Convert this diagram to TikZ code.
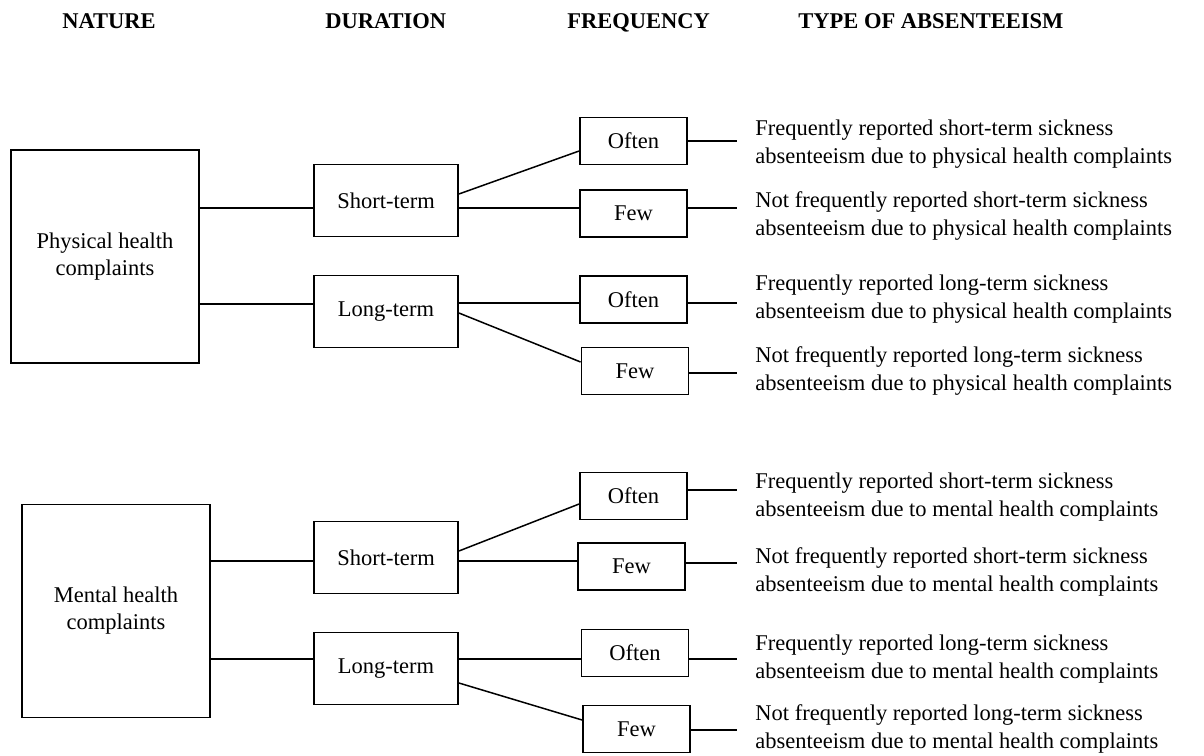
\documentclass[tikz,border=0pt]{standalone}
\usepackage{fontspec}
\setmainfont{Liberation Serif}
\usepackage{tikz}

\begin{document}
\begin{tikzpicture}[x=0.5pt,y=-0.5pt,
nature box/.style={draw,line width=0.9pt,minimum width=94pt,minimum height=106.5pt,
                   align=center,font=\fontsize{11.25}{13.5}\selectfont},
duration box/.style={draw,line width=0.9pt,minimum width=72pt,minimum height=36pt,
                   font=\fontsize{11.25}{13.5}\selectfont},
freq box/.style={draw,line width=0.9pt,minimum width=53.5pt,minimum height=23.5pt,
                   font=\fontsize{11.25}{13.5}\selectfont},
head text/.style={anchor=base west,inner sep=0,font=\fontsize{11.25}{13.5}\selectfont\bfseries},
type text/.style={anchor=west,inner sep=0,align=left,font=\fontsize{11.25}{14}\selectfont},
link/.style={line width=0.75pt}]
\useasboundingbox (0,0) rectangle (1204,755);
%==================
\node[head text] (h1) at (62,28) {NATURE};
\node[head text] (h2) at (325,28) {DURATION};
\node[head text] (h3) at (567,28) {FREQUENCY};
\node[head text] (h4) at (798,28) {TYPE OF ABSENTEEISM};
%==================
\node[nature box] (phys) at (105,256.5) {Physical health\\complaints};
\node[nature box] (ment) at (116,611) {Mental health\\complaints};
%==================
\node[duration box] (st1) at (386,200.5) {Short-term};
\node[duration box] (lt1) at (386,311.5) {Long-term};
\node[duration box] (st2) at (386,557.5) {Short-term};
\node[duration box] (lt2) at (386,668.5) {Long-term};
%==================
\node[freq box] (o1) at (633.5,141) {Often};
\node[freq box] (f1) at (633.5,213.5) {Few};
\node[freq box] (o2) at (633.5,299.5) {Often};
\node[freq box] (f2) at (635,371) {Few};
\node[freq box] (o3) at (633.5,496) {Often};
\node[freq box] (f3) at (631.5,566.5) {Few};
\node[freq box] (o4) at (635,653) {Often};
\node[freq box] (f4) at (636.5,729) {Few};
%==================
\node[type text] (t1) at (755,144) {Frequently reported short-term sickness\\absenteeism due to physical health complaints};
\node[type text] (t2) at (755,216) {Not frequently reported short-term sickness\\absenteeism due to physical health complaints};
\node[type text] (t3) at (755,299) {Frequently reported long-term sickness\\absenteeism due to physical health complaints};
\node[type text] (t4) at (755,371) {Not frequently reported long-term sickness\\absenteeism due to physical health complaints};
\node[type text] (t5) at (755,497) {Frequently reported short-term sickness\\absenteeism due to mental health complaints};
\node[type text] (t6) at (755,572) {Not frequently reported short-term sickness\\absenteeism due to mental health complaints};
\node[type text] (t7) at (755,659) {Frequently reported long-term sickness\\absenteeism due to mental health complaints};
\node[type text] (t8) at (755,729) {Not frequently reported long-term sickness\\absenteeism due to mental health complaints};
% ===================
\draw[link] (phys.east |- 0,208) -- (st1.west |- 0,208);
\draw[link] (phys.east |- 0,304) -- (lt1.west |- 0,304);
\draw[link] (ment.east |- 0,561) -- (st2.west |- 0,561);
\draw[link] (ment.east |- 0,659) -- (lt2.west |- 0,659);
% ===================
\draw[link] (st1.east |- 0,194) -- (o1.west |- 0,151);
\draw[link] (st1.east |- 0,208) -- (f1.west |- 0,208);
\draw[link] (lt1.east |- 0,303) -- (o2.west |- 0,303);
\draw[link] (lt1.east |- 0,313) -- (f2.west |- 0,362);
\draw[link] (st2.east |- 0,551) -- (o3.west |- 0,504);
\draw[link] (st2.east |- 0,561) -- (f3.west |- 0,561);
\draw[link] (lt2.east |- 0,659) -- (o4.west |- 0,659);
\draw[link] (lt2.east |- 0,683) -- (f4.west |- 0,720);
% ===================
\foreach \f/\y in {o1/141,f1/208,o2/303,f2/373,o3/490,f3/563,o4/659,f4/730}{
    \coordinate (end-\f) at (737,\y);
    \draw[link] (\f.east |- end-\f) -- (end-\f);
}
\end{tikzpicture}
\end{document}
